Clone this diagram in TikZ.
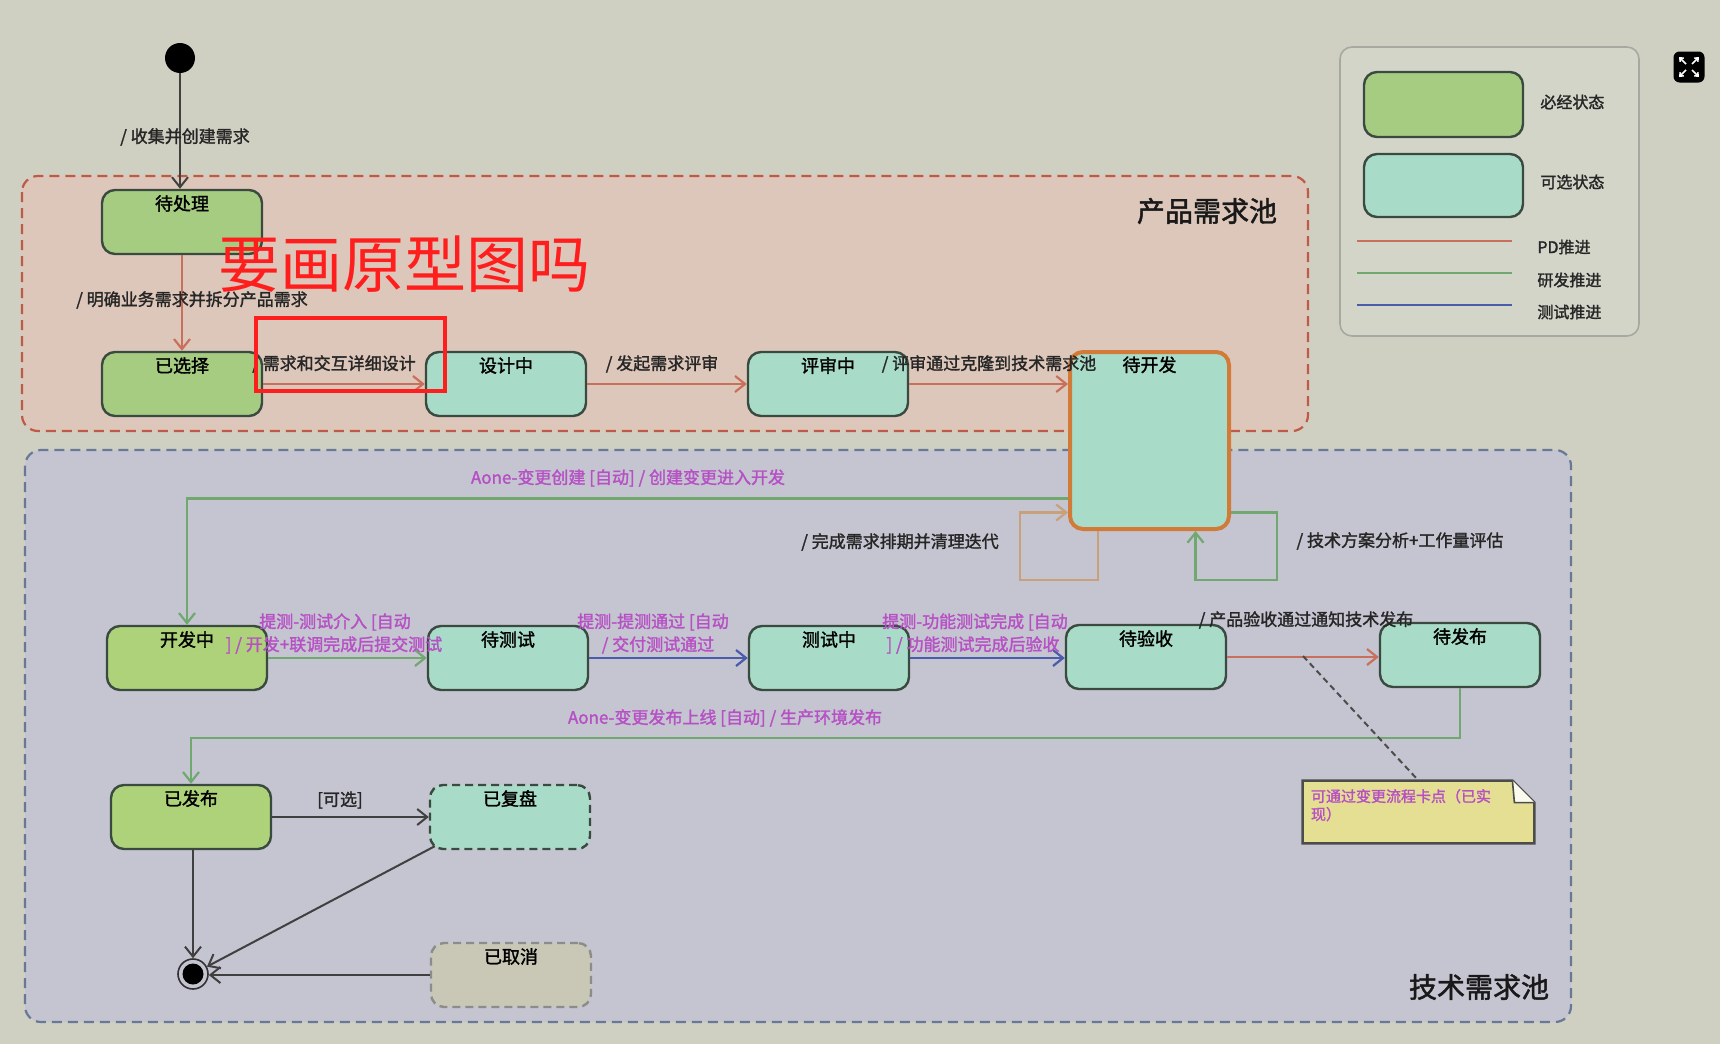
\documentclass[tikz,border=0pt]{standalone}
\usepackage{fontspec}
\newfontfamily\cjk{Noto Sans CJK SC}
\newfontfamily\cjkb[FakeBold=1.6]{Noto Sans CJK SC}
\usetikzlibrary{arrows.meta,calc}
\definecolor{bgc}{HTML}{CFD0C2}
\definecolor{pdfill}{HTML}{DDC7BA}
\definecolor{pdline}{HTML}{C05A48}
\definecolor{tpfill}{HTML}{C4C5D1}
\definecolor{tpline}{HTML}{6A7898}
\definecolor{gfill}{HTML}{A6CC82}
\definecolor{gfilltwo}{HTML}{AED27A}
\definecolor{cfill}{HTML}{A8DCC8}
\definecolor{sborder}{HTML}{3A4A40}
\definecolor{orng}{HTML}{D27A38}
\definecolor{pdarrow}{HTML}{C8705C}
\definecolor{devarrow}{HTML}{70A870}
\definecolor{testarrow}{HTML}{4A5CAA}
\definecolor{magtxt}{HTML}{B650C4}
\definecolor{loopc}{HTML}{C8A07A}
\definecolor{cancfill}{HTML}{C9C7B5}
\definecolor{notefill}{HTML}{E4DF92}
\definecolor{legfill}{HTML}{D4D5C9}
\definecolor{legline}{HTML}{A8A8A2}
\definecolor{redmark}{HTML}{FF1E1E}
\begin{document}
\begin{tikzpicture}[x=0.5pt,y=-0.5pt,
  >={Straight Barb[length=5pt,width=8pt]},
  state/.style={draw=sborder, line width=1.2pt, rounded corners=6.5pt,
    minimum width=80pt, minimum height=32pt, inner sep=0pt},
  gstate/.style={state, fill=gfill},
  gstatetwo/.style={state, fill=gfilltwo},
  cstate/.style={state, fill=cfill},
  ttl/.style={font=\cjkb\fontsize{9}{10}\selectfont, anchor=north, inner sep=1pt, text=black},
  lbl/.style={font=\cjkb\fontsize{8.5}{10}\selectfont, inner sep=1pt, text=black!85},
  mlbl/.style={lbl, text=magtxt},
  pd/.style={draw=pdarrow, line width=1.1pt, ->},
  dev/.style={draw=devarrow, line width=1.1pt, ->},
  tst/.style={draw=testarrow, line width=1.1pt, ->},
  blk/.style={draw=black!75, line width=1pt, ->},
  poolttl/.style={font=\cjkb\fontsize{14}{16}\selectfont, inner sep=0pt, text=black!90},
  leglbl/.style={font=\cjkb\fontsize{8}{10}\selectfont, anchor=west, inner sep=0pt, text=black!85},
]
\fill[bgc] (0,0) rectangle (1720,1044);
\useasboundingbox (0,0) rectangle (1720,1044);

% pools
\draw[draw=pdline, fill=pdfill, rounded corners=8pt, line width=1.1pt, dash pattern=on 5pt off 3pt]
  (22,176) rectangle (1308,431);
\draw[draw=tpline, fill=tpfill, rounded corners=8pt, line width=1.1pt, dash pattern=on 5pt off 3pt]
  (25,450) rectangle (1571,1022);
\node[poolttl] (pp) at (1207,211) {产品需求池};
\node[poolttl] (tp) at (1479,987) {技术需求池};

% legend
\draw[draw=legline, fill=legfill, rounded corners=6pt, line width=0.8pt] (1340,47) rectangle (1639,336);
\node[gstate, minimum width=79.5pt, minimum height=32.5pt] (lg1) at (1443.5,104.5) {};
\node[cstate, minimum width=79.5pt, minimum height=31.5pt] (lg2) at (1443.5,185.5) {};
\node[leglbl] (lgt1) at (1540,102) {必经状态};
\node[leglbl] (lgt2) at (1540,182) {可选状态};
\draw[pdarrow, line width=1pt] (1357,241) -- (1512,241);
\draw[devarrow, line width=1pt] (1357,273) -- (1512,273);
\draw[testarrow, line width=1pt] (1357,305) -- (1512,305);
\node[leglbl] (lgt3) at (1537,247) {PD推进};
\node[leglbl] (lgt4) at (1537,280) {研发推进};
\node[leglbl] (lgt5) at (1537,312) {测试推进};

% icon
\node[fill=black, rounded corners=3pt, minimum size=15.5pt, inner sep=0pt] (icon) at (1689,67) {};
\foreach \dx/\dy in {1/1,1/-1,-1/1,-1/-1}
  \draw[white, line width=0.8pt, -{Straight Barb[length=1.5pt,width=2.5pt]}]
    ($(icon)+(\dx*3,\dy*3)$) -- ($(icon)+(\dx*10,\dy*10)$);

% initial & final
\node[circle, fill=black, minimum size=15pt, inner sep=0pt] (init) at (180,58) {};
\node[circle, draw=black!80, line width=0.8pt, minimum size=15pt, inner sep=0pt] (fin) at (193,974) {};
\node[circle, fill=black, minimum size=10.5pt, inner sep=0pt] (finc) at (fin) {};

% states
\node[gstate] (dcl) at (182,222) {};
\node[ttl] (dclt) at ($(dcl.north)+(0,4)$) {待处理};
\node[gstate] (yxz) at (182,384) {};
\node[ttl] (yxzt) at ($(yxz.north)+(0,4)$) {已选择};
\node[cstate] (sjz) at (506,384) {};
\node[ttl] (sjzt) at ($(sjz.north)+(0,4)$) {设计中};
\node[cstate] (psz) at (828,384) {};
\node[ttl] (pszt) at ($(psz.north)+(0,4)$) {评审中};
\node[cstate, draw=orng, line width=2pt, minimum width=79.5pt, minimum height=88.5pt] (dkf) at (1149.5,440.5) {};
\node[ttl] (dkft) at ($(dkf.north)+(0,4)$) {待开发};

\node[gstatetwo] (kfz) at (187,658) {};
\node[ttl] (kfzt) at ($(kfz.north)+(0,4)$) {开发中};
\node[cstate] (dcs) at (508,658) {};
\node[ttl] (dcst) at ($(dcs.north)+(0,4)$) {待测试};
\node[cstate] (csz) at (829,658) {};
\node[ttl] (cszt) at ($(csz.north)+(0,4)$) {测试中};
\node[cstate] (dys) at (1146,657) {};
\node[ttl] (dyst) at ($(dys.north)+(0,4)$) {待验收};
\node[cstate] (dfb) at (1460,655) {};
\node[ttl] (dfbt) at ($(dfb.north)+(0,4)$) {待发布};

\node[gstatetwo] (yfb) at (191,817) {};
\node[ttl] (yfbt) at ($(yfb.north)+(0,4)$) {已发布};
\node[cstate, dash pattern=on 4pt off 2.5pt] (yfp) at (510,817) {};
\node[ttl] (yfpt) at ($(yfp.north)+(0,4)$) {已复盘};
\node[state, fill=cancfill, draw=black!45, dash pattern=on 4pt off 2.5pt] (yqx) at (511,975) {};
\node[ttl] (yqxt) at ($(yqx.north)+(0,4)$) {已取消};

% connectors
\draw[blk] (init) -- (init |- dcl.north);
\node[lbl] (l1) at (185,137) {/ 收集并创建需求};
\draw[pd] (dcl) -- (yxz);
\node[lbl] (l2) at (192,300) {/ 明确业务需求并拆分产品需求};
\draw[pd] (yxz) -- (sjz);
\node[lbl] (l3) at (334,364) {/ 需求和交互详细设计};
\draw[pd] (sjz) -- (psz);
\node[lbl] (l4) at (662,364) {/ 发起需求评审};
\draw[pd] (psz.east) -- (psz.east -| dkf.west);
\node[lbl] (l5) at (989,364) {/ 评审通过克隆到技术需求池};

\draw[dev] ($(dkf.west)+(0,58)$) -| (kfz.north);
\node[mlbl] (l6) at (628,478) {Aone-变更创建 [自动] / 创建变更进入开发};

\draw[draw=loopc, line width=1.1pt, ->] ($(dkf.south west)+(30,0)$) -- ++(0,49)
  -| ($(dkf.west)+(-48,72)$) -- ($(dkf.west)+(0,72)$);
\node[lbl] (l7) at (900,542) {/ 完成需求排期并清理迭代};
\draw[dev] ($(dkf.east)+(0,72)$) -- ++(46,0) |- ($(dkf.south)+(46,49)$) -- ($(dkf.south)+(46,0)$);
\node[lbl] (l8) at (1400,541) {/ 技术方案分析+工作量评估};

\draw[dev] (kfz) -- (dcs);
\node[mlbl] (l9a) at (335,622) {提测-测试介入 [自动};
\node[mlbl] (l9b) at (334,645) {] / 开发+联调完成后提交测试};
\draw[tst] (dcs) -- (csz);
\node[mlbl] (l10a) at (653,622) {提测-提测通过 [自动};
\node[mlbl] (l10b) at (658,645) {/ 交付测试通过};
\draw[tst] (csz.east) -- (csz.east -| dys.west);
\node[mlbl] (l11a) at (975,622) {提测-功能测试完成 [自动};
\node[mlbl] (l11b) at (973,645) {] / 功能测试完成后验收};
\draw[pd] (dys.east) -- (dys.east -| dfb.west);
\node[lbl] (l12) at (1306,620) {/ 产品验收通过通知技术发布};

\draw[dev] (dfb.south) -- ($(dfb.south)+(0,50)$) -| (yfb.north);
\node[mlbl] (l13) at (725,718) {Aone-变更发布上线 [自动] / 生产环境发布};

\draw[blk] (yfb) -- (yfp);
\node[lbl] (l14) at (340,800) {[可选]};
\draw[blk] (fin |- yfb.south) -- (fin.north);
\draw[blk] ($(yfp.south west)+(6,-4)$) -- (fin);
\draw[blk] (yqx.west) -- (yqx.west -| fin.east);

% note
\node[minimum width=115.5pt, minimum height=31pt, inner sep=0pt] (note) at (1418.5,812) {};
\draw[draw=black!70, line width=1.2pt, fill=notefill] (note.north west) -- ($(note.north east)+(-22,0)$)
  -- ($(note.north east)+(0,22)$) -- (note.south east) -- (note.south west) -- cycle;
\draw[draw=black!70, line width=0.8pt, fill=white!85!notefill] ($(note.north east)+(-22,0)$)
  -- ($(note.north east)+(-20,22)$) -- ($(note.north east)+(0,22)$);
\node[font=\cjkb\fontsize{7.5}{9}\selectfont, text=magtxt, anchor=north west, align=left, inner sep=0pt]
  (notetxt) at ($(note.north west)+(8,8)$) {可通过变更流程卡点（已实\\现）};
\coordinate (notept) at ($(dys.east)!0.5!(dfb.west)$);
\draw[black!70, line width=1pt, dash pattern=on 3pt off 2pt] (notept) -- (note.north);

% red annotation
\node[font=\cjk\fontsize{31}{32}\selectfont, text=redmark, inner sep=0pt] (ann) at (404,264) {要画原型图吗};
\node[draw=redmark, line width=1.8pt, minimum width=94.5pt, minimum height=36.5pt, inner sep=0pt] (annbox) at (350.5,354.5) {};
\end{tikzpicture}
\end{document}
